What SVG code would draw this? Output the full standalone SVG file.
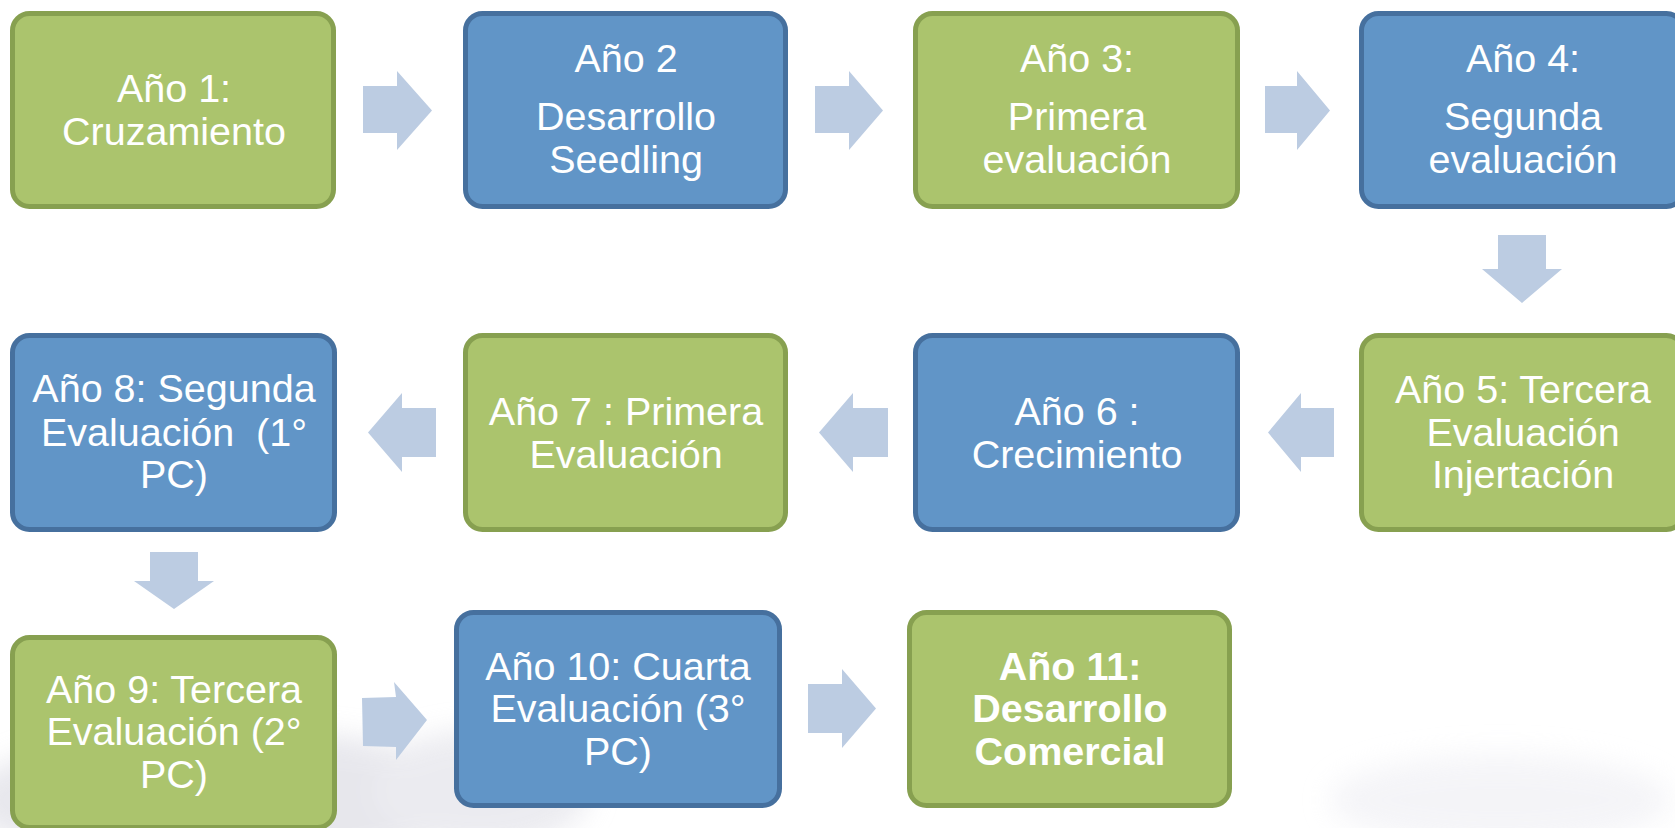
<svg xmlns="http://www.w3.org/2000/svg" width="1675" height="828" viewBox="0 0 1675 828">
<defs>
<filter id="blur" x="-20%" y="-20%" width="140%" height="140%"><feGaussianBlur stdDeviation="14"/></filter>
<style>
.g{fill:#ABC46D;stroke:#87A050;stroke-width:5}
.b{fill:#6195C7;stroke:#46709E;stroke-width:5}
.a{fill:#BCCCE2}
text{font-family:"Liberation Sans",Arial,sans-serif;font-size:39.5px;fill:#FFFFFF;text-anchor:middle}
.bold{font-weight:bold}
</style>
</defs>
<rect width="1675" height="828" fill="#FFFFFF"/>
<g id="background" opacity="0.55" filter="url(#blur)">
<ellipse cx="230" cy="800" rx="260" ry="70" fill="#D4D4DE"/>
<ellipse cx="480" cy="790" rx="110" ry="60" fill="#DCDCE4"/>
<ellipse cx="1500" cy="800" rx="170" ry="45" fill="#ECECF2"/>
</g>
<g id="connectors">
<polygon class="a" points="363,86 397,86 397,71 432,110.5 397,150 397,133 363,133"/>
<polygon class="a" points="815,86 849,86 849,71 883,110.5 849,150 849,133 815,133"/>
<polygon class="a" points="1265,86 1297,86 1297,71 1330,110.5 1297,150 1297,133 1265,133"/>
<polygon class="a" points="1498,235 1546,235 1546,269 1562,269 1522,303 1482,269 1498,269"/>
<polygon class="a" points="1334,408 1301,408 1301,393 1268,432.5 1301,472 1301,457 1334,457"/>
<polygon class="a" points="888,408 853,408 853,393 819,432.5 853,472 853,457 888,457"/>
<polygon class="a" points="436,408 402,408 402,393 368,432.5 402,472 402,457 436,457"/>
<polygon class="a" points="150,552 198,552 198,581 214,581 174,609 134,581 150,581"/>
<polygon class="a" points="362,698 396,697 394,682 427,720 396,760 396,747 363,746"/>
<polygon class="a" points="808,684 842,684 842,669 876,708.5 842,748 842,733 808,733"/>
</g>
<g id="n1">
<rect class="g" x="12.5" y="13.5" width="321" height="193" rx="17"/>
<text x="174" y="102">Año 1:</text>
<text x="174" y="145">Cruzamiento</text>
</g>
<g id="n2">
<rect class="b" x="465.5" y="13.5" width="320" height="193" rx="17"/>
<text x="626" y="72">Año 2</text>
<text x="626" y="130">Desarrollo</text>
<text x="626" y="173">Seedling</text>
</g>
<g id="n3">
<rect class="g" x="915.5" y="13.5" width="322" height="193" rx="17"/>
<text x="1077" y="72">Año 3:</text>
<text x="1077" y="130">Primera</text>
<text x="1077" y="173">evaluación</text>
</g>
<g id="n4">
<rect class="b" x="1361.5" y="13.5" width="322" height="193" rx="17"/>
<text x="1523" y="72">Año 4:</text>
<text x="1523" y="130">Segunda</text>
<text x="1523" y="173">evaluación</text>
</g>
<g id="n5">
<rect class="g" x="1361.5" y="335.5" width="322" height="194" rx="17"/>
<text x="1523" y="403">Año 5: Tercera</text>
<text x="1523" y="446">Evaluación</text>
<text x="1523" y="488">Injertación</text>
</g>
<g id="n6">
<rect class="b" x="915.5" y="335.5" width="322" height="194" rx="17"/>
<text x="1077" y="425">Año 6 :</text>
<text x="1077" y="468">Crecimiento</text>
</g>
<g id="n7">
<rect class="g" x="465.5" y="335.5" width="320" height="194" rx="17"/>
<text x="626" y="425">Año 7 : Primera</text>
<text x="626" y="468">Evaluación</text>
</g>
<g id="n8">
<rect class="b" x="12.5" y="335.5" width="322" height="194" rx="17"/>
<text x="174" y="402">Año 8: Segunda</text>
<text x="174" y="446" xml:space="preserve">Evaluación  (1°</text>
<text x="174" y="488">PC)</text>
</g>
<g id="n9">
<rect class="g" x="12.5" y="637.5" width="322" height="190" rx="17"/>
<text x="174" y="703">Año 9: Tercera</text>
<text x="174" y="745">Evaluación (2°</text>
<text x="174" y="788">PC)</text>
</g>
<g id="n10">
<rect class="b" x="456.5" y="612.5" width="323" height="193" rx="17"/>
<text x="618" y="680">Año 10: Cuarta</text>
<text x="618" y="722">Evaluación (3°</text>
<text x="618" y="765">PC)</text>
</g>
<g id="n11">
<rect class="g" x="909.5" y="612.5" width="320" height="193" rx="17"/>
<text class="bold" x="1070" y="680">Año 11:</text>
<text class="bold" x="1070" y="722">Desarrollo</text>
<text class="bold" x="1070" y="765">Comercial</text>
</g>
</svg>
